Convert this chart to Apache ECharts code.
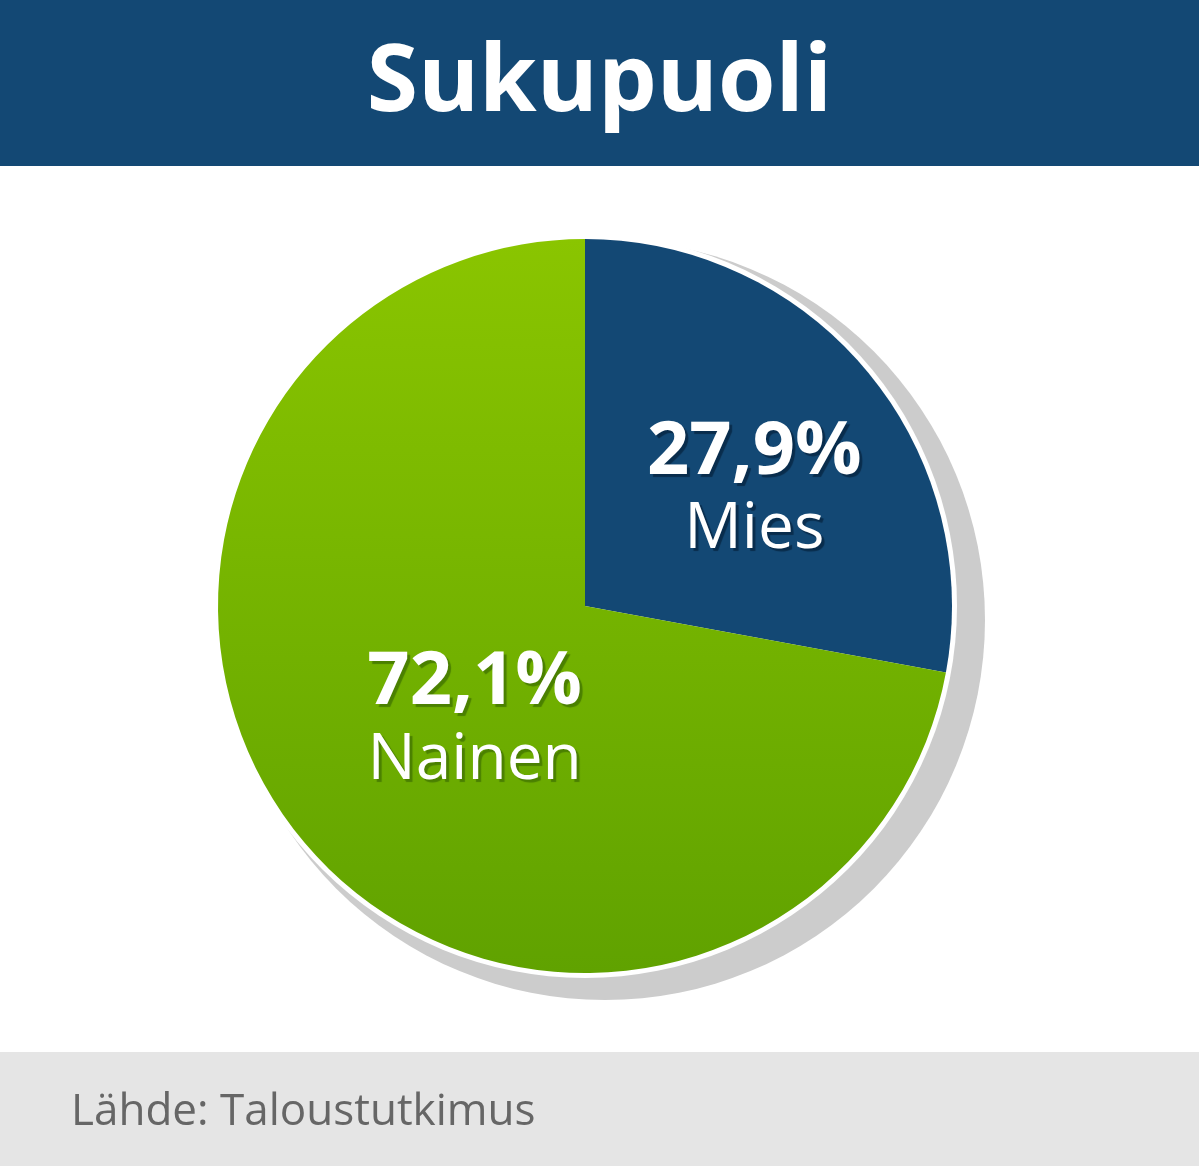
<!DOCTYPE html>
<html>
<head>
<meta charset="utf-8">
<script src="https://cdn.jsdelivr.net/npm/echarts@6/dist/echarts.min.js"></script>
<style>
html,body{margin:0;padding:0;background:#fff;}
#chart{width:1199px;height:1166px;}
</style>
</head>
<body>
<div id="chart"></div>
<script>
var titleText = 'Sukupuoli';
var sourceText = 'Lähde: Taloustutkimus';
var categories = ['Mies', 'Nainen'];
var values = [27.9, 72.1];

var chart = echarts.init(document.getElementById('chart'), null, {renderer: 'canvas'});
var FONT = '"Open Sans", "Noto Sans", sans-serif';
var BLUE = '#134874';

function fmt(v) { return v.toFixed(1).replace('.', ','); }

var labelOffsets = [[26, 4], [33, -4]];
var shadowCols = ['#082c4c', '#4a8000'];

var pieData = categories.map(function (c, i) {
  var color = i === 0 ? BLUE : new echarts.graphic.LinearGradient(0, 0, 0, 1, [
    {offset: 0, color: '#8ac500'},
    {offset: 1, color: '#60a200'}
  ]);
  var sh = {textShadowColor: shadowCols[i], textShadowOffsetX: 3, textShadowOffsetY: 3, textShadowBlur: 1};
  return {
    name: c,
    value: values[i],
    itemStyle: {color: color},
    label: Object.assign({
      offset: labelOffsets[i],
      rich: {
        p: Object.assign({fontFamily: FONT, fontWeight: 'bold', fontSize: 74, color: '#fff', lineHeight: 78}, sh),
        n: Object.assign({fontFamily: FONT, fontSize: 64, color: '#fff', lineHeight: 76}, sh)
      }
    }, sh)
  };
});

chart.setOption({
  animation: false,
  backgroundColor: '#ffffff',
  graphic: [
    {type: 'rect', shape: {x: 0, y: 0, width: 1199, height: 166}, style: {fill: BLUE}, z: 0},
    {type: 'rect', shape: {x: 0, y: 1052, width: 1199, height: 114}, style: {fill: '#e5e5e5'}, z: 0},
    {type: 'text', left: 71, top: 1090, style: {text: sourceText, fill: '#666666', font: '44px ' + FONT}, z: 1}
  ],
  title: {
    text: titleText,
    left: 'center',
    top: 33,
    textStyle: {color: '#ffffff', fontFamily: FONT, fontWeight: 'bold', fontSize: 93}
  },
  series: [
    {
      type: 'pie',
      silent: true,
      center: [605, 620],
      radius: 380,
      z: 1,
      label: {show: false},
      labelLine: {show: false},
      itemStyle: {color: '#cccccc'},
      data: [{name: 'shadow', value: 1}]
    },
    {
      type: 'pie',
      silent: true,
      center: [585, 606],
      radius: 372,
      z: 2,
      label: {show: false},
      labelLine: {show: false},
      itemStyle: {color: '#ffffff'},
      data: [{name: 'ring', value: 1}]
    },
    {
      type: 'pie',
      silent: true,
      center: [585, 606],
      radius: 367,
      startAngle: 90,
      clockwise: true,
      z: 3,
      itemStyle: {borderWidth: 0},
      label: {
        show: true,
        position: 'inside',
        formatter: function (p) { return '{p|' + fmt(p.value) + '%}\n{n|' + p.name + '}'; }
      },
      labelLine: {show: false},
      data: pieData
    }
  ]
});
</script>
</body>
</html>
